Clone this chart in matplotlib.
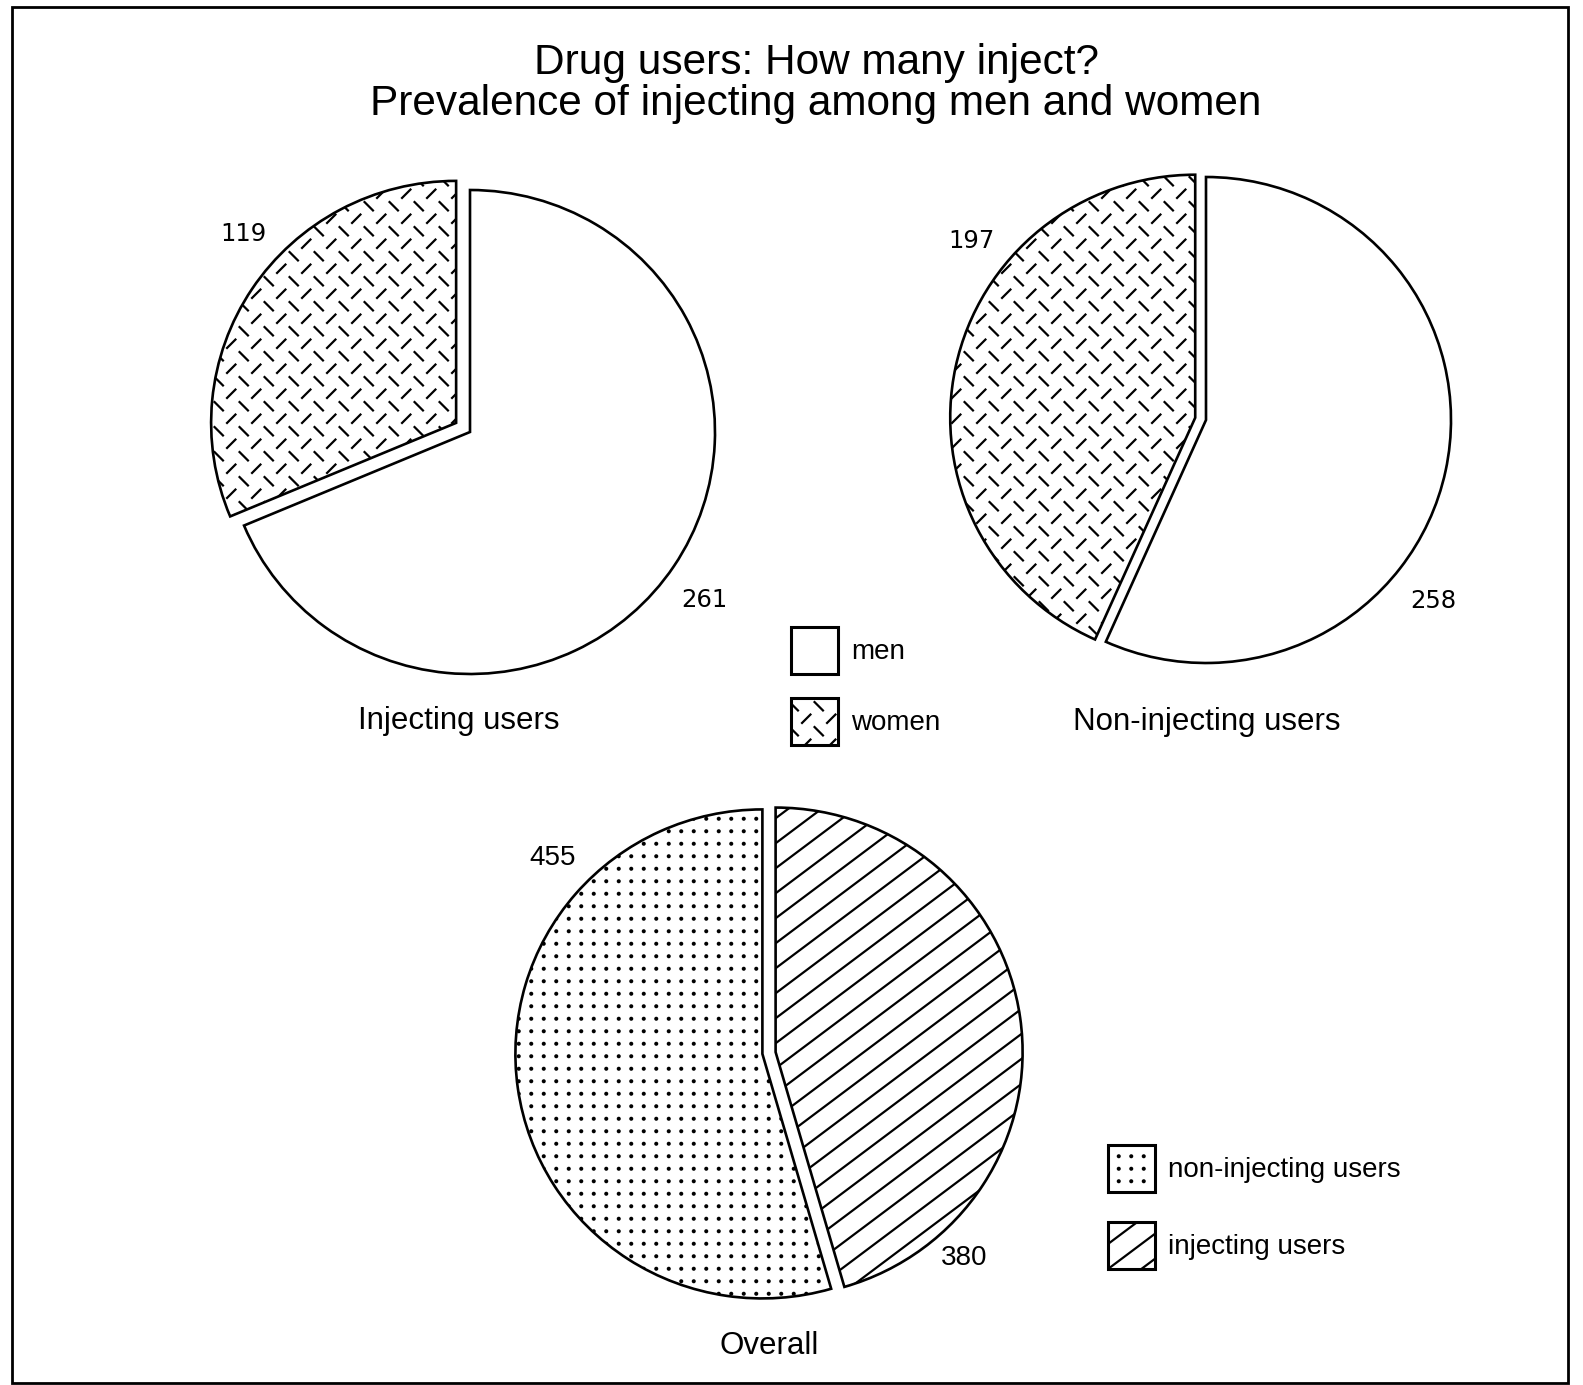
import numpy as np
import matplotlib
matplotlib.use('Agg')
import matplotlib.pyplot as plt
import matplotlib.hatch as mhatch
from matplotlib.path import Path
from matplotlib.patches import Patch, Rectangle

# ----------------------------------------------------------------------
# data
# ----------------------------------------------------------------------
sex_labels = ['men', 'women']
injecting_by_sex = [261, 119]
non_injecting_by_sex = [258, 197]

overall_labels = ['injecting users', 'non-injecting users']
overall_values = [380, 455]

pie_titles = ['Injecting users', 'Non-injecting users', 'Overall']
title_lines = ['Drug users: How many inject?',
               'Prevalence of injecting among men and women']

# ----------------------------------------------------------------------
# custom hatches (the old print look: dashed cross, dots, slanted lines)
# ----------------------------------------------------------------------
class DashCross(mhatch.HatchPatternBase):
    # short '/' dashes on a square lattice, '\' dashes at the cell centres
    def __init__(self, hatch, density):
        self.n = 4 if 'x' in hatch else 0
        self.num_vertices = 4 * self.n ** 2

    def set_vertices_and_codes(self, vertices, codes):
        s = 1.0 / self.n
        h = 0.042
        pts = []
        for i in range(self.n):
            for j in range(self.n):
                px, py = (i + 0.25) * s, (j + 0.25) * s
                pts += [(px - h, py - h), (px + h, py + h)]
                qx, qy = (i + 0.75) * s, (j + 0.75) * s
                pts += [(qx - h, qy + h), (qx + h, qy - h)]
        vertices[:] = pts
        codes[0::2] = Path.MOVETO
        codes[1::2] = Path.LINETO


class Dots(mhatch.HatchPatternBase):
    def __init__(self, hatch, density):
        self.n = 8 if '.' in hatch else 0
        self.circle = Path.unit_circle()
        self.num_vertices = self.n ** 2 * len(self.circle.vertices)

    def set_vertices_and_codes(self, vertices, codes):
        k = len(self.circle.vertices)
        r = 0.009
        idx = 0
        for i in range(self.n):
            for j in range(self.n):
                c = np.array([(i + 0.5) / self.n, (j + 0.5) / self.n])
                vertices[idx:idx + k] = self.circle.vertices * r + c
                codes[idx:idx + k] = self.circle.codes
                idx += k


class Slant(mhatch.HatchPatternBase):
    # lines of slope 3/4, 0.25 apart vertically (tiles cleanly)
    def __init__(self, hatch, density):
        self.offsets = np.arange(-0.75, 1.0 + 1e-9, 0.25) if '/' in hatch else []
        self.num_vertices = 2 * len(self.offsets)

    def set_vertices_and_codes(self, vertices, codes):
        vertices[0::2, 0] = 0.0
        vertices[0::2, 1] = self.offsets
        vertices[1::2, 0] = 1.0
        vertices[1::2, 1] = np.asarray(self.offsets) + 0.75
        codes[0::2] = Path.MOVETO
        codes[1::2] = Path.LINETO


mhatch._hatch_types[:] = [DashCross, Dots, Slant]

plt.rcParams['font.family'] = ['Liberation Sans', 'DejaVu Sans']
plt.rcParams['hatch.linewidth'] = 1.6
plt.rcParams['hatch.color'] = 'black'

W, H = 1583, 1385
fig = plt.figure(figsize=(W / 100, H / 100), dpi=100)

sex_hatch = ['', 'x']
overall_hatch = ['/', '.']
edge_lw = 1.9


def fx(px):
    return px / W


def fy(py):
    return 1 - py / H


def pie_at(cx, cy, rx, ry, values, hatches, explode):
    # rx/ry differ by a few px: the scanned original is slightly squashed
    pad = 1.35
    ax = fig.add_axes([fx(cx - pad * rx), fy(cy + pad * ry), 2 * pad * rx / W, 2 * pad * ry / H])
    ax.pie(values, startangle=90, counterclock=False, explode=explode,
           colors=['white'] * len(values), hatch=hatches,
           wedgeprops=dict(edgecolor='black', linewidth=edge_lw))
    ax.set_aspect('auto')
    ax.set_xlim(-pad, pad)
    ax.set_ylim(-pad, pad)
    ax.axis('off')
    return ax


# ----------------------------------------------------------------------
# pies
# ----------------------------------------------------------------------
pie_at(470, 432, 245, 242, injecting_by_sex, sex_hatch, [0, 0.068])
pie_at(1206, 420, 245, 243, non_injecting_by_sex, sex_hatch, [0, 0.045])
pie_at(769, 1053, 247, 244.5, overall_values, overall_hatch, [0.027, 0.027])

# value labels
val_pos = [(243, 234), (704, 600), (972, 241), (1433, 601)]
for (px, py), v in zip(val_pos, [injecting_by_sex[1], injecting_by_sex[0],
                                 non_injecting_by_sex[1], non_injecting_by_sex[0]]):
    fig.text(fx(px), fy(py), f'{v}', ha='center', va='center', fontsize=17.5,
             family='DejaVu Sans')
fig.text(fx(553), fy(858), f'{overall_values[1]}', ha='center', va='center', fontsize=20)
fig.text(fx(964), fy(1258), f'{overall_values[0]}', ha='center', va='center', fontsize=20)

# pie captions
for (px, py), t in zip([(459, 721), (1207, 722), (769, 1346)], pie_titles):
    fig.text(fx(px), fy(py), t, ha='center', va='center', fontsize=22.5)

# title
fig.text(fx(816), fy(63), title_lines[0], ha='center', va='center', fontsize=30.5)
fig.text(fx(816), fy(104), title_lines[1], ha='center', va='center', fontsize=30.5)

# legends
h1 = [Patch(facecolor='white', edgecolor='black', linewidth=2.2, hatch=h)
      for h in sex_hatch]
fig.legend(h1, sex_labels, loc='upper left', bbox_to_anchor=(fx(791), fy(627)),
           frameon=False, fontsize=20, handlelength=1.7, handleheight=2.22,
           handletextpad=0.45, labelspacing=0.87, borderpad=0, borderaxespad=0)

h2 = [Patch(facecolor='white', edgecolor='black', linewidth=2.2, hatch=h)
      for h in overall_hatch[::-1]]
fig.legend(h2, overall_labels[::-1], loc='upper left', bbox_to_anchor=(fx(1108), fy(1145)),
           frameon=False, fontsize=20, handlelength=1.7, handleheight=2.22,
           handletextpad=0.45, labelspacing=1.08, borderpad=0, borderaxespad=0)

# outer frame
fig.patches.append(Rectangle((fx(12), fy(1383)), fx(1568) - fx(12), fy(7) - fy(1383),
                             transform=fig.transFigure, fill=False,
                             edgecolor='black', linewidth=2))

plt.savefig('out.png', dpi=100)
